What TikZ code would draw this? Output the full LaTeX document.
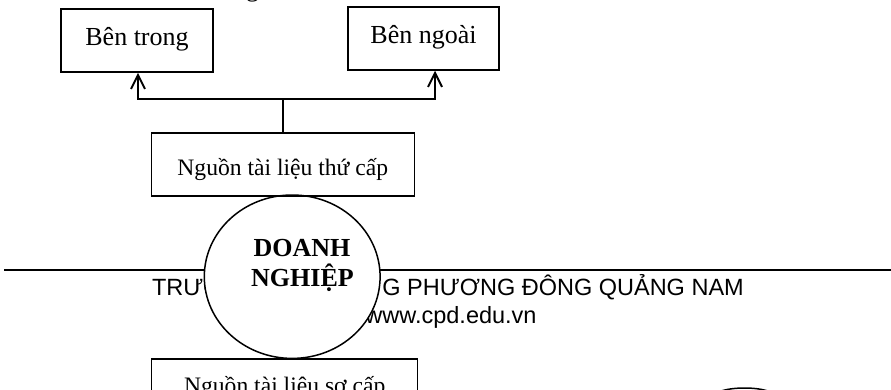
\documentclass[tikz,border=0pt]{standalone}
\usepackage{fontspec}
\setmainfont{Liberation Serif}
\newfontfamily\footfont{Liberation Sans}
\usetikzlibrary{shapes.geometric,arrows.meta,calc}
\begin{document}
\begin{tikzpicture}[x=1pt,y=-1pt,
  box/.style={draw,line width=1.5pt,inner sep=0pt},
  topbox/.style={box,minimum width=152pt,minimum height=63pt,font=\fontsize{26}{30}\selectfont,text height=15pt,text depth=6pt},
  srcbox/.style={box,minimum height=63pt,font=\fontsize{23.6}{28}\selectfont},
  link/.style={line width=2pt},
  arr/.style={link,-{Straight Barb[length=14pt,width=14pt,line width=2pt]}},
  foot/.style={font=\footfont\fontsize{23.5}{28}\selectfont,inner sep=0pt},
  big/.style={font=\bfseries\fontsize{26}{30}\selectfont,anchor=base,inner sep=0pt}
]
\useasboundingbox (0,0) rectangle (891,389);
\clip (0,0) rectangle (891,389);
% fragment of a heading above
\node[font=\fontsize{26}{30}\selectfont,anchor=base west,inner sep=0pt] (head) at (246,-4) {g};
% page footer rule and text
\coordinate (hl) at (4,269.7);
\coordinate (hr) at (891,269.7);
\draw[link] (hl) -- (hr);
\node[foot,anchor=base east] (foot1) at (744,295) {TRƯỜNG CAO ĐẲN\kern10pt G PHƯƠNG ĐÔNG QUẢNG NAM};
\node[foot,anchor=base] (foot2) at (451,323.3) {www.cpd.edu.vn};
% ellipse
\node[ellipse,draw,fill=white,line width=1.5pt,inner sep=0pt,minimum width=175.8pt,minimum height=163.4pt] (dn) at (292.2,276.7) {};
\node[big] (dn1) at (302,256) {DOANH};
\node[big] (dn2) at (302.5,286.7) {NGHIỆP};
% boxes
\node[topbox] (trong) at (137,40.5) {Bên trong};
\node[topbox,minimum width=151pt] (ngoai) at (423.5,38.5) {Bên ngoài};
\node[srcbox,minimum width=263pt,text height=22pt,text depth=1.4pt] (thu) at (282.8,164.7) {Nguồn tài liệu thứ cấp};
\node[srcbox,minimum width=266pt,text height=12pt,text depth=5.8pt] (so) at (284.7,390.5) {Nguồn tài liệu sơ cấp};
% connectors
\coordinate (j) at ($(thu.north)+(0,-33)$);
\draw[link] (thu.north) -- (j);
\draw[arr] (j) -| ([xshift=1pt]trong.south);
\draw[arr] (j) -| ([xshift=11.5pt]ngoai.south);
% shape peeking at bottom right
\draw[line width=1.5pt] (744.5,398) ellipse [x radius=33, y radius=10];
\end{tikzpicture}
\end{document}
